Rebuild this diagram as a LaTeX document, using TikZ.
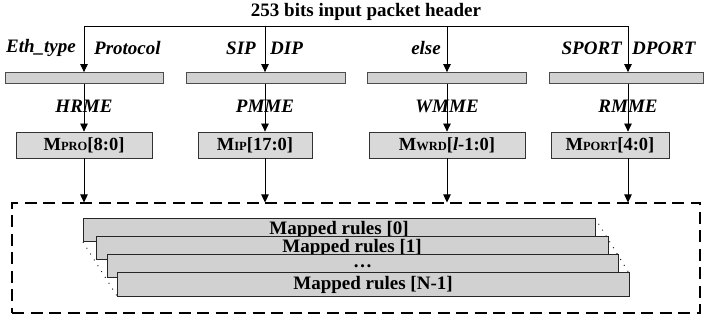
\documentclass[tikz,border=0pt]{standalone}
\usepackage{fontspec}
\setmainfont{Liberation Serif}
\usetikzlibrary{arrows.meta}
\tikzset{
  txt/.style={font=\fontsize{19}{20}\selectfont\bfseries, inner sep=0pt},
  lab/.style={font=\fontsize{19}{20}\selectfont\bfseries\itshape, inner sep=0pt},
  bar/.style={draw=black!70, fill=black!18, line width=0.8pt, minimum height=11pt, inner sep=0pt},
  mbox/.style={draw=black!80, fill=black!15, line width=0.8pt, minimum height=26pt, inner sep=0pt,
     font=\fontsize{18.5}{20}\selectfont\bfseries},
  rule/.style={draw=black!85, fill=black!18, line width=0.8pt, minimum height=23.5pt, inner sep=0pt,
     font=\fontsize{19}{20}\selectfont\bfseries},
  arr/.style={line width=0.8pt, -{Triangle[length=8pt,width=7.5pt]}},
  ln/.style={line width=0.8pt},
  dashbox/.style={draw, line width=1.1pt, dash pattern=on 12pt off 6.5pt, minimum width=688pt, minimum height=110pt, inner sep=0pt},
  dotl/.style={line width=0.9pt, dash pattern=on 0.9pt off 6pt}
}
\newcommand{\sm}[1]{{\fontsize{12.5}{13}\selectfont #1}}
\begin{document}
\begin{tikzpicture}[x=1pt,y=-1pt]
\useasboundingbox (0,0) rectangle (704,320);
% title and top line
\node[txt] (title) at (366,12) {253 bits input packet header};
\coordinate (t1) at (84,26);
\coordinate (t2) at (265,26);
\coordinate (t3) at (447,26);
\coordinate (t4) at (628,26);
\draw[ln] (t1) -- (t4);
% input labels
\node[lab, anchor=east] (l1a) at (76,48) {Eth\_type};
\node[lab, anchor=west] (l1b) at (94,48) {Protocol};
\node[lab, anchor=east] (l2a) at (256,48) {SIP};
\node[lab, anchor=west] (l2b) at (270,48) {DIP};
\node[lab, anchor=east] (l3a) at (441,48) {else};
\node[lab, anchor=east] (l4a) at (622,48) {SPORT};
\node[lab, anchor=west] (l4b) at (632,48) {DPORT};
% bars
\node[bar, minimum width=158pt] (b1) at (84,78) {};
\node[bar, minimum width=159pt] (b2) at (265.5,78) {};
\node[bar, minimum width=159pt] (b3) at (446.5,78) {};
\node[bar, minimum width=154pt] (b4) at (626,78) {};
% M boxes
\node[mbox, minimum width=136pt] (m1) at (84,145) {M\sm{PRO}[8:0]};
\node[mbox, minimum width=114pt] (m2) at (255,145) {M\sm{IP}[17:0]};
\node[mbox, minimum width=156pt] (m3) at (447,145) {M\sm{WRD}[\textit{l}-1:0]};
\node[mbox, minimum width=118pt] (m4) at (610,145) {M\sm{PORT}[4:0]};
% dashed box
\node[dashbox] (db) at (356,258) {};
% arrows
\foreach \i in {1,2,3,4}{
  \draw[arr] (t\i) -- (t\i |- b\i.north);
  \draw[arr] (t\i |- b\i.south) -- (t\i |- m\i.north);
  \draw[arr] (t\i |- m\i.south) -- (t\i |- db.north);
}
% engine labels
\node[lab] (e1) at (84,106) {HRME};
\node[lab] (e2) at (265,106) {PMME};
\node[lab] (e3) at (447,106) {WMME};
\node[lab] (e4) at (628,106) {RMME};
% mapped rules stack
\coordinate (r0sw) at (83,242);
\coordinate (r3sw) at (117,296);
\coordinate (r0ne) at (595,218);
\coordinate (r3ne) at (629,273);
\draw[dotl] (r0sw) -- (r3sw);
\draw[dotl] (r0ne) -- (r3ne);
\node[rule, minimum width=512pt] (r0) at (339,230) {Mapped rules [0]};
\node[rule, minimum width=512pt] (r1) at (352,247.75) {Mapped rules [1]};
\node[rule, minimum width=511pt] (r2) at (362.5,266) {…};
\node[rule, minimum width=512pt] (r3) at (373,284.5) {Mapped rules [N-1]};
\end{tikzpicture}
\end{document}
